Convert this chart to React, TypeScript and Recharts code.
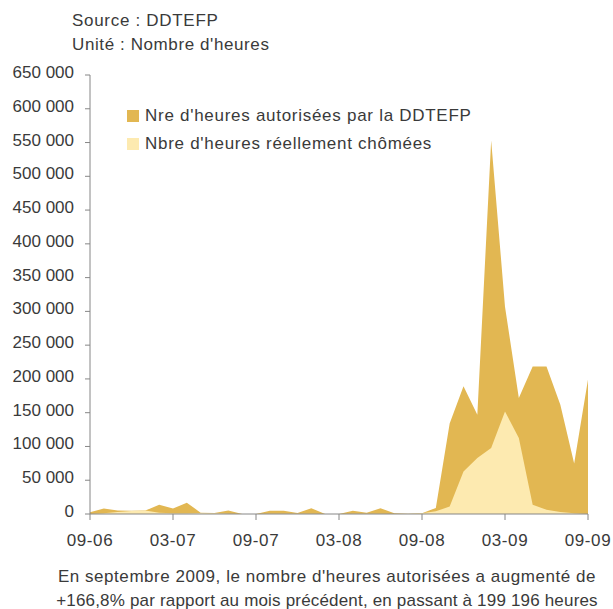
import React from "react";
import { AreaChart, Area, XAxis, YAxis } from "recharts";

const months = [
  "09-06", "10-06", "11-06", "12-06", "01-07", "02-07", "03-07", "04-07", "05-07", "06-07", "07-07", "08-07",
  "09-07", "10-07", "11-07", "12-07", "01-08", "02-08", "03-08", "04-08", "05-08", "06-08", "07-08", "08-08",
  "09-08", "10-08", "11-08", "12-08", "01-09", "02-09", "03-09", "04-09", "05-09", "06-09", "07-09", "08-09",
  "09-09",
];

const autorisees = [
  2500, 8300, 5000, 4800, 5000, 13800, 8300, 16700, 2000, 1500, 5000, 0,
  0, 4900, 4900, 1500, 8400, 0, 0, 4900, 2000, 8400, 1000, 500,
  1000, 9000, 134000, 189000, 147000, 553000, 307000, 171700, 218500, 218500, 161800, 74661,
  199196,
];

const chomees = [
  0, 1000, 3000, 4500, 5000, 2000, 1000, 1000, 1500, 1000, 500, 0,
  0, 500, 500, 500, 500, 0, 0, 500, 500, 500, 0, 0,
  1000, 4000, 11000, 63000, 83000, 97700, 151900, 112500, 13800, 6400, 3000, 1000,
  0,
];

const yTicks = [0, 50000, 100000, 150000, 200000, 250000, 300000, 350000, 400000, 450000, 500000, 550000, 600000, 650000];

const seriesNames = ["Nre d'heures autorisées par la DDTEFP", "Nbre d'heures réellement chômées"];
const colors = ["#E2B752", "#FDEAB0"];

const footerLines = [
  "En septembre 2009, le nombre d'heures autorisées a augmenté de",
  "+166,8% par rapport au mois précédent, en passant à 199 196 heures",
];

const data = months.map((m, i) => ({ month: m, autorisees: autorisees[i], chomees: chomees[i] }));

const fmt = (v: number) => String(v).replace(/\B(?=(\d{3})+(?!\d))/g, " ");

const FONT = "'Liberation Sans', Arial, sans-serif";
const TEXT = "#3a3a3a";
const AXIS = "#868686";

export default function App() {
  return (
    <div style={{ position: "relative", width: 613, height: 609, fontFamily: FONT, color: TEXT, overflow: "hidden" }}>
      <style>{"html,body{margin:0;padding:0;overflow:hidden;}"}</style>
      <AreaChart width={613} height={609} data={data} margin={{ top: 75, right: 25, bottom: 65, left: 0 }}>
        <XAxis
          dataKey="month"
          interval={5}
          tickSize={6}
          tickMargin={14}
          height={30}
          stroke={AXIS}
          tick={{ fill: TEXT, fontSize: 17, fontFamily: FONT, letterSpacing: 0.6 }}
        />
        <YAxis
          domain={[0, 650000]}
          ticks={yTicks}
          width={90}
          tickSize={5}
          tickMargin={11}
          stroke={AXIS}
          interval={0}
          tickFormatter={fmt}
          tick={{ fill: TEXT, fontSize: 17, fontFamily: FONT, dy: -3 }}
        />
        <Area type="linear" dataKey="autorisees" stroke="none" fill={colors[0]} fillOpacity={1} isAnimationActive={false} />
        <Area type="linear" dataKey="chomees" stroke="none" fill={colors[1]} fillOpacity={1} isAnimationActive={false} />
      </AreaChart>

      <div style={{ position: "absolute", left: 72, top: 11, fontSize: 17, lineHeight: "20px", letterSpacing: 0.7 }}>Source : DDTEFP</div>
      <div style={{ position: "absolute", left: 72, top: 35, fontSize: 17, lineHeight: "20px", letterSpacing: 0.6 }}>Unité : Nombre d'heures</div>

      {seriesNames.map((name, i) => (
        <div key={name} style={{ position: "absolute", left: 127, top: 106 + i * 28, display: "flex", alignItems: "center", fontSize: 17, lineHeight: "20px", whiteSpace: "nowrap" }}>
          <span style={{ display: "inline-block", width: 12, height: 12, background: colors[i], marginRight: 6 }} />
          <span style={{ letterSpacing: 0.72 }}>{name}</span>
        </div>
      ))}

      {footerLines.map((line, i) => (
        <div key={i} style={{ position: "absolute", left: 0, width: 654, top: 565 + i * 24, textAlign: "center", fontSize: 17, lineHeight: "24px", letterSpacing: i === 0 ? 0.55 : 0.18, whiteSpace: "nowrap" }}>
          {line}
        </div>
      ))}
    </div>
  );
}
